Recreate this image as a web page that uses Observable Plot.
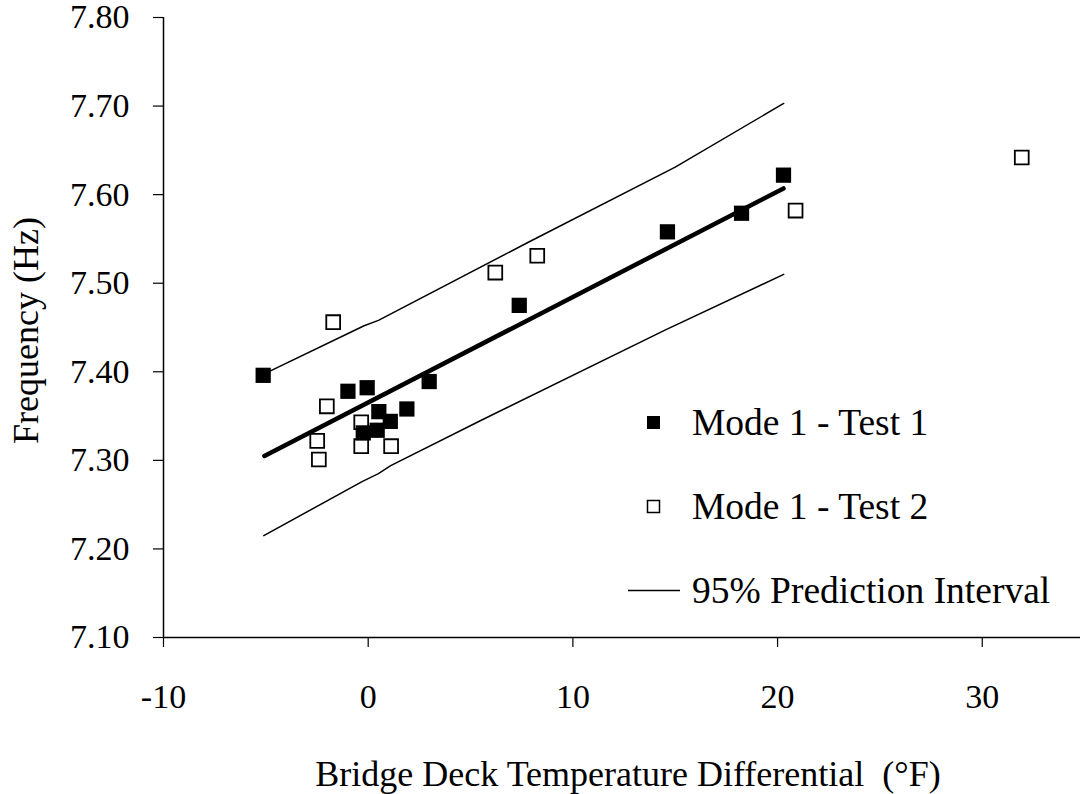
<!DOCTYPE html>
<html>
<head>
<meta charset="utf-8">
<script src="https://cdn.jsdelivr.net/npm/d3@7"></script>
<script src="https://cdn.jsdelivr.net/npm/@observablehq/plot@0.6"></script>
<style>
  html, body { margin: 0; padding: 0; background: #fff; }
  #wrap { position: relative; width: 1080px; height: 794px; font-family: "Liberation Serif", "Times New Roman", serif; }
  #legend { position: absolute; left: 620px; top: 398px; font-size: 37.5px; color: #000; }
  .row { display: flex; align-items: center; height: 48px; }
  .row svg { width: 66px; height: 48px; flex: none; }
  .row span { margin-left: 6px; white-space: nowrap; }
</style>
</head>
<body>
<div id="wrap"></div>
<script>
// Tick values
const xTicks = [-10, 0, 10, 20, 30];
const yTicks = [7.10, 7.20, 7.30, 7.40, 7.50, 7.60, 7.70, 7.80];

// Mode 1 - Test 1 (filled squares)
const test1X = [-5.13, -0.99, -0.05, 2.98, 0.52, 1.89, 1.08, -0.24, 0.44, 7.38, 14.62, 18.24, 20.29];
const test1Y = [7.396, 7.378, 7.382, 7.389, 7.355, 7.358, 7.344, 7.331, 7.334, 7.475, 7.558, 7.579, 7.622];

// Mode 1 - Test 2 (open squares)
const test2X = [-1.71, -2.02, -0.34, -2.49, -2.41, -0.34, 1.12, 6.21, 8.26, 20.88, 31.93];
const test2Y = [7.456, 7.361, 7.343, 7.322, 7.301, 7.316, 7.316, 7.512, 7.531, 7.582, 7.642];

// Regression line
const fitX = [-5.07, 20.29];
const fitY = [7.305, 7.607];

// 95% prediction interval
const upperX = [-5.13, -0.2, 0.5, 7.8, 15.0, 20.3];
const upperY = [7.397, 7.452, 7.458, 7.546, 7.631, 7.703];
const lowerX = [-5.1, -0.3, 0.5, 1.1, 5.5, 14.5, 20.3];
const lowerY = [7.215, 7.276, 7.285, 7.294, 7.345, 7.447, 7.510];

// Text
const xTitle = "Bridge Deck Temperature Differential  (°F)";
const yTitle = "Frequency (Hz)";
const legendLabels = ["Mode 1 - Test 1", "Mode 1 - Test 2", "95% Prediction Interval"];

const zip = (xs, ys) => xs.map((x, i) => ({x, y: ys[i]}));
const t1 = zip(test1X, test1Y);
const t2 = zip(test2X, test2Y);
const fit = zip(fitX, fitY);
const upper = zip(upperX, upperY);
const lower = zip(lowerX, lowerY);

const chart = Plot.plot({
  width: 1080,
  height: 794,
  marginLeft: 163,
  marginRight: 0,
  marginTop: 17,
  marginBottom: 157,
  style: {fontFamily: "'Liberation Serif', 'Times New Roman', serif", background: "#fff", color: "#000", overflow: "visible"},
  x: {domain: [-10, 34.8], label: null},
  y: {domain: [7.1, 7.8], label: null},
  marks: [
    Plot.ruleY([7.1], {stroke: "#000", strokeWidth: 1.5, x1: -10, x2: 34.8}),
    Plot.ruleX([-10], {stroke: "#000", strokeWidth: 1.5}),
    Plot.axisX({ticks: xTicks, tickSize: 10, tickPadding: 36, fontSize: 34, tickFormat: d => String(d), label: null, stroke: "#000", strokeWidth: 1.2}),
    Plot.axisY({ticks: yTicks, tickSize: 10, tickPadding: 24, fontSize: 34, tickFormat: d => d.toFixed(2), label: null, stroke: "#000", strokeWidth: 1.2}),
    Plot.line(upper, {x: "x", y: "y", stroke: "#000", strokeWidth: 1.5}),
    Plot.line(lower, {x: "x", y: "y", stroke: "#000", strokeWidth: 1.5}),
    Plot.line(fit, {x: "x", y: "y", stroke: "#000", strokeWidth: 4.5}),
    Plot.dot(t2, {x: "x", y: "y", symbol: "square", r: 7.8, fill: "#fff", stroke: "#000", strokeWidth: 1.8}),
    Plot.dot(t1, {x: "x", y: "y", symbol: "square", r: 8.6, fill: "#000", stroke: null}),
    Plot.text([xTitle], {frameAnchor: "bottom", dx: 6, dy: 137, fontSize: 36, lineAnchor: "middle", textAnchor: "middle", fill: "#000"}),
    Plot.text([yTitle], {frameAnchor: "left", dx: -137, dy: 3, rotate: -90, fontSize: 36, lineAnchor: "middle", textAnchor: "middle", fill: "#000"})
  ]
});
document.getElementById("wrap").appendChild(chart);

// Legend
const legend = d3.select("#wrap").append("div").attr("id", "legend");
const sw = [
  s => s.append("rect").attr("x", 27).attr("y", 18).attr("width", 13).attr("height", 13).attr("fill", "#000"),
  s => s.append("rect").attr("x", 27.5).attr("y", 18.5).attr("width", 12).attr("height", 12).attr("fill", "#fff").attr("stroke", "#000").attr("stroke-width", 1.5),
  s => s.append("line").attr("x1", 8).attr("x2", 60).attr("y1", 24.5).attr("y2", 24.5).attr("stroke", "#000").attr("stroke-width", 1.5)
];
legendLabels.forEach((lab, i) => {
  const row = legend.append("div").attr("class", "row").style("margin-top", i === 0 ? "0px" : "36px");
  const svg = row.append("svg").attr("viewBox", "0 0 66 48");
  sw[i](svg);
  row.append("span").text(lab);
});
</script>
</body>
</html>
